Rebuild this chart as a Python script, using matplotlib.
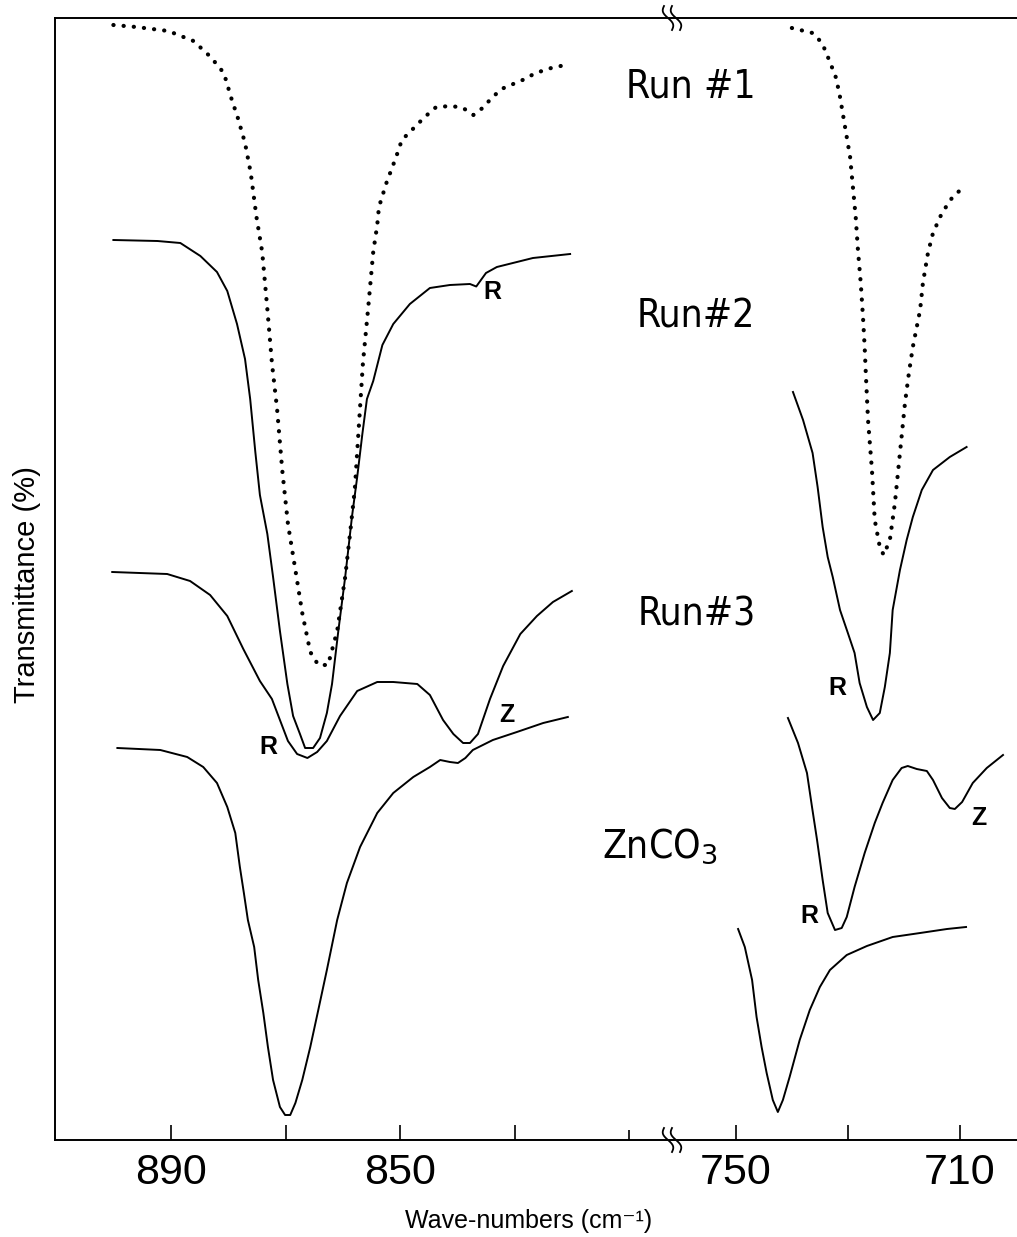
import numpy as np
import matplotlib
matplotlib.use("Agg")
import matplotlib.pyplot as plt
from matplotlib import font_manager
from matplotlib.lines import Line2D

# pick a condensed sans for the curve names, if there is one
fonts = font_manager.fontManager.ttflist
names = {f.name for f in fonts}
narrow, stretch, name_size = 'Liberation Sans', 'normal', 28
if 'Liberation Sans Narrow' in names:
    narrow, stretch, name_size = 'Liberation Sans Narrow', 'normal', 33
elif any(f.name == 'DejaVu Sans' and f.stretch == 'condensed' for f in fonts):
    narrow, stretch, name_size = 'DejaVu Sans', 'condensed', 28
else:
    cond = sorted(n for n in names if 'Condensed' in n or 'Narrow' in n)
    if cond:
        narrow, stretch, name_size = cond[0], 'normal', 33

plt.rcParams['font.family'] = ['Liberation Sans', 'DejaVu Sans']
plt.rcParams['mathtext.fontset'] = 'custom'
plt.rcParams['mathtext.rm'] = narrow
plt.rcParams['mathtext.it'] = narrow

# ---- spectra (wavenumber in cm-1, transmittance in arbitrary offset units)
run1_l_wn = [900.1, 896.1, 890.5, 886.1, 883.1, 880.8, 879.4, 878.4, 877.1, 876.1, 875.1, 874.1,
             873.2, 872.4, 871.5, 870.6, 869.6, 868.3, 867.1, 865.7, 864.3, 862.6, 861.0, 859.6,
             858.7, 857.9, 857.3, 856.5, 855.6, 854.7, 854.0, 853.7, 852.4, 850.7, 849.7, 848.3,
             845.7, 843.7, 841.0, 839.0, 837.2, 835.6, 834.0, 832.3, 828.6, 826.3, 823.6, 820.3]
run1_l_t = [111.5, 111.3, 110.9, 109.9, 108.3, 106.7, 104.0, 102.3, 99.7, 96.7, 92.3, 88.8,
            83.1, 77.7, 73.1, 67.0, 61.6, 57.0, 52.7, 48.8, 47.5, 47.5, 50.9, 56.3,
            60.9, 65.2, 70.6, 77.7, 83.1, 88.8, 91.5, 93.3, 95.7, 98.3, 100.0, 100.8,
            102.3, 103.3, 103.4, 103.2, 102.5, 103.2, 104.2, 105.1, 106.0, 106.7, 107.2, 107.6]
run1_r_wn = [740.0, 736.3, 734.6, 733.2, 732.1, 731.4, 730.5, 729.6, 729.1, 728.6, 728.2, 727.7,
             727.3, 727.0, 726.8, 726.4, 725.7, 725.2, 724.3, 723.6, 722.5, 721.6, 720.7, 719.8,
             719.1, 718.4, 717.1, 716.6, 715.7, 714.8, 713.2, 711.3, 709.5]
run1_r_t = [111.2, 110.7, 109.7, 107.8, 106.2, 104.3, 101.3, 98.3, 95.3, 92.3, 89.0, 85.7,
            82.3, 79.3, 76.7, 72.0, 67.0, 62.0, 59.3, 58.5, 60.0, 63.7, 68.7, 73.7,
            76.7, 79.3, 83.0, 85.7, 88.7, 90.7, 92.7, 94.3, 95.2]

run2_l_wn = [900.1, 892.4, 888.4, 884.9, 882.0, 880.2, 878.5, 877.1, 876.2, 875.3, 874.5, 873.2,
             872.2, 871.0, 869.7, 868.7, 867.5, 866.6, 865.2, 864.0, 862.8, 861.9, 860.8, 859.6,
             858.4, 857.5, 856.6, 855.8, 854.7, 853.1, 851.2, 848.3, 844.8, 841.3, 837.8, 836.7,
             835.0, 833.1, 826.8, 820.3]
run2_l_t = [90.0, 89.9, 89.7, 88.4, 86.8, 84.9, 81.6, 78.1, 74.1, 68.8, 64.5, 60.6,
            56.3, 50.9, 45.6, 42.4, 40.6, 39.2, 39.2, 40.2, 42.7, 45.6, 50.9, 56.3,
            62.4, 66.3, 70.6, 74.1, 75.9, 79.5, 81.6, 83.6, 85.2, 85.5, 85.6, 85.35,
            86.7, 87.3, 88.2, 88.6]
run2_r_wn = [739.8, 738.0, 736.3, 735.4, 734.5, 733.6, 732.7, 731.4, 730.0, 728.8, 727.9, 726.6,
             725.5, 724.3, 723.4, 722.5, 722.0, 720.7, 719.5, 718.4, 716.8, 714.8, 711.8, 708.8]
run2_r_t = [74.8, 72.0, 68.7, 65.3, 61.3, 58.3, 56.3, 53.0, 50.7, 48.7, 45.7, 43.3,
            42.0, 42.7, 45.3, 48.7, 53.0, 57.0, 60.0, 62.3, 65.0, 67.0, 68.3, 69.3]

run3_l_wn = [900.3, 890.7, 886.7, 883.2, 880.2, 877.4, 874.5, 872.4, 871.0, 869.6, 868.0, 866.2,
             864.5, 862.8, 860.5, 857.5, 854.0, 851.2, 847.0, 844.8, 842.5, 840.7, 839.0, 837.8,
             836.4, 834.3, 832.0, 829.0, 826.1, 823.3, 820.0]
run3_l_t = [56.8, 56.6, 55.9, 54.5, 52.4, 49.1, 45.9, 44.1, 42.0, 39.9, 38.6, 38.2,
            38.8, 39.9, 42.4, 44.9, 45.8, 45.8, 45.6, 44.5, 42.0, 40.6, 39.7, 39.7,
            40.6, 44.1, 47.4, 50.6, 52.4, 53.8, 54.9]
run3_r_wn = [740.7, 738.9, 737.3, 736.4, 735.5, 735.0, 734.5, 733.6, 732.3, 731.1, 730.2, 728.8,
             727.0, 725.2, 723.8, 722.0, 720.4, 719.3, 717.7, 715.9, 714.8, 713.2, 711.8, 710.9,
             709.6, 707.7, 705.2, 702.3]
run3_r_t = [42.2, 39.7, 36.7, 33.3, 30.0, 28.0, 26.0, 22.7, 21.0, 21.2, 22.3, 25.3,
            28.7, 31.7, 33.7, 36.0, 37.2, 37.4, 37.1, 36.9, 36.0, 34.2, 33.2, 33.1,
            33.8, 35.7, 37.2, 38.5]

znco3_l_wn = [899.4, 891.9, 887.2, 884.4, 882.0, 880.2, 878.8, 878.0, 877.3, 876.6, 875.5, 874.8,
              873.9, 873.1, 872.2, 871.0, 870.1, 869.2, 868.3, 867.1, 865.7, 864.3, 862.8, 861.0,
              859.3, 857.0, 854.0, 851.2, 847.7, 844.8, 843.0, 841.3, 839.9, 838.6, 837.3, 833.8,
              829.6, 825.0, 820.7]
znco3_l_t = [39.2, 39.0, 38.3, 37.3, 35.7, 33.3, 30.7, 27.3, 24.7, 22.0, 19.3, 16.0,
             12.7, 9.3, 6.0, 3.3, 2.5, 2.5, 3.7, 6.0, 9.3, 13.0, 17.0, 22.0,
             25.7, 29.3, 32.7, 34.7, 36.3, 37.3, 38.0, 37.8, 37.7, 38.2, 39.0, 40.0,
             40.8, 41.7, 42.3]
znco3_r_wn = [749.6, 748.4, 747.1, 746.3, 745.4, 744.5, 743.4, 742.5, 741.6, 740.4, 738.6, 736.8,
              735.0, 733.2, 730.2, 726.6, 722.0, 717.1, 712.3, 708.9]
znco3_r_t = [21.1, 19.3, 16.0, 12.3, 9.3, 6.7, 4.0, 2.8, 4.0, 6.3, 10.0, 13.0,
             15.3, 17.0, 18.5, 19.4, 20.3, 20.7, 21.1, 21.3]

left_ticks = [890, 870, 850, 830]
left_labels = ['890', '', '850', '']
right_ticks = [750, 730, 710]
right_labels = ['750', '', '710']

W, H = 1017, 1237
fig = plt.figure(figsize=(W / 100, H / 100), dpi=100)
ax1 = fig.add_axes([55 / W, 97 / H, 617 / W, 1122 / H])
ax2 = fig.add_axes([672 / W, 97 / H, 345 / W, 1122 / H])

solid = dict(color='black', lw=1.4, solid_joinstyle='round')
dots = dict(color='black', lw=3.0, linestyle=(0, (0.05, 2.4)), dash_capstyle='round')

ax1.plot(run1_l_wn, run1_l_t, **dots)
ax1.plot(run2_l_wn, run2_l_t, **solid)
ax1.plot(run3_l_wn, run3_l_t, **solid)
ax1.plot(znco3_l_wn, znco3_l_t, **solid)
ax2.plot(run1_r_wn, run1_r_t, **dots)
ax2.plot(run2_r_wn, run2_r_t, **solid)
ax2.plot(run3_r_wn, run3_r_t, **solid)
ax2.plot(znco3_r_wn, znco3_r_t, **solid)

ax1.set_xlim(910.3, 802.5)
ax2.set_xlim(761.4, 699.8)
for ax in (ax1, ax2):
    ax.set_ylim(0, 112.2)
    ax.set_yticks([])
    ax.spines['right'].set_visible(False)
    for s in ax.spines.values():
        s.set_linewidth(1.4)
    ax.tick_params(axis='x', which='major', direction='in', length=11, width=1.2,
                   pad=9, labelsize=31)
    ax.tick_params(axis='x', which='minor', direction='in', length=7, width=1.2)
ax2.spines['left'].set_visible(False)

ax1.set_xticks(left_ticks)
ax1.set_xticklabels(left_labels)
ax1.set_xticks([810], minor=True)
ax2.set_xticks(right_ticks)
ax2.set_xticklabels(right_labels)

# peak labels
lab = dict(fontsize=18, fontweight='bold', ha='center', va='center')
ax1.text(833.9, 84.8, 'R', **lab)
ax1.text(873.1, 39.3, 'R', **lab)
ax1.text(831.3, 42.5, 'Z', **lab)
ax2.text(731.8, 45.2, 'R', **lab)
ax2.text(736.8, 22.4, 'R', **lab)
ax2.text(706.6, 32.2, 'Z', **lab)

# curve names
name = dict(fontsize=name_size, family=narrow, fontstretch=stretch, va='baseline')
fig.text(691 / W, 1 - 98 / H, 'Run #1', ha='center', **name)
fig.text(696 / W, 1 - 328 / H, 'Run#2', ha='center', **name)
fig.text(697 / W, 1 - 625 / H, 'Run#3', ha='center', **name)
fig.text(602 / W, 1 - 858 / H, 'ZnCO$_3$', ha='left', **name)

fig.text(529 / W, 1 - 1221 / H, 'Wave-numbers (cm\u207b\u00b9)', fontsize=18,
         ha='center', va='center')
fig.text(27 / W, 1 - 585 / H, 'Transmittance (%)', fontsize=21, rotation=90,
         ha='center', va='center')

# axis break marks
t = np.linspace(-1, 1, 40)
for yp in (18, 1140):
    for dx in (-4, 4):
        xs = 672 + dx + 4 * t + 3 * np.sin(np.pi * t)
        ys = yp + 12 * t
        fig.add_artist(Line2D(xs / W, 1 - ys / H, transform=fig.transFigure,
                              color='black', lw=1.3))

fig.savefig('out.png', dpi=100)
